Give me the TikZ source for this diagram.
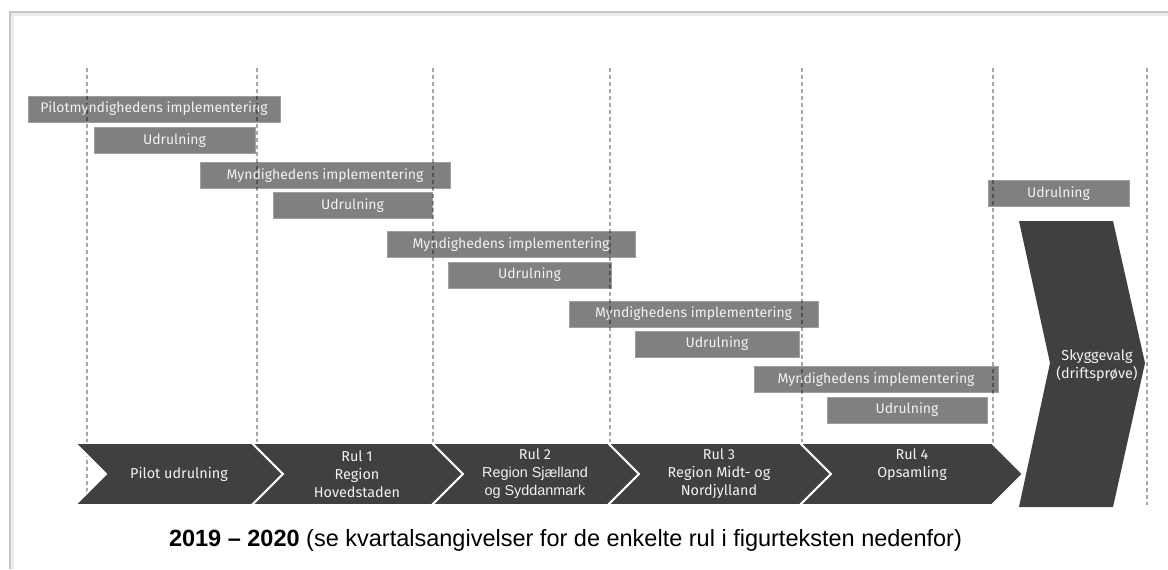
\documentclass[tikz,border=0pt]{standalone}
\usepackage{fontspec}
\setmainfont{Liberation Sans}
\newfontfamily\barfont{Fira Sans}
\begin{document}
\begin{tikzpicture}[x=0.5pt,y=-0.5pt,
   bar/.style={fill=gray,draw=gray!75,minimum height=13pt,inner sep=0pt,
     text=white!95!black,font=\barfont\fontsize{7}{8}\selectfont},
   guide/.style={black,opacity=.35,line width=.7pt,dash pattern=on 2pt off 1.5pt},
   chev/.style={fill=black!75,draw=white,line width=.9pt,line join=miter},
   lbl/.style={text=white!95!black,align=center,inner sep=0pt,
     font=\barfont\fontsize{7.2}{9}\selectfont}]
   \useasboundingbox (0,0) rectangle (1168,569);
   \draw[gray!15,line width=2pt] (12,569) -- (12,14) -- (1168,14);
   \draw[gray!45,line width=.8pt] (10,569) -- (10,12) -- (1168,12);
   \node[bar,minimum width=126pt] (imp0) at (154,109) {Pilotmyndighedens implementering};
   \node[bar,minimum width=80.5pt] (udr0) at (174.5,140.5) {Udrulning};
   \node[bar,minimum width=125pt] (imp1) at (325,175.5) {Myndighedens implementering};
   \node[bar,minimum width=79.5pt] (udr1) at (352.5,205.5) {Udrulning};
   \node[bar,minimum width=124pt] (imp2) at (511,244.5) {Myndighedens implementering};
   \node[bar,minimum width=81.5pt] (udr2) at (529.5,275) {Udrulning};
   \node[bar,minimum width=124.5pt] (imp3) at (693.5,314) {Myndighedens implementering};
   \node[bar,minimum width=82pt] (udr3) at (717,344) {Udrulning};
   \node[bar,minimum width=122pt] (imp4) at (876,379.5) {Myndighedens implementering};
   \node[bar,minimum width=80pt] (udr4) at (907,410) {Udrulning};
   \node[bar,minimum width=70.5pt] (udr5) at (1058.5,193.5) {Udrulning};
   \foreach \x in {87,257,433,610,802,993,1147}
     \draw[guide] (\x,68) -- (\x,505);
   \foreach \l/\r in {75/252,252/432,432/608,608/800,800/992}
     \draw[chev] (\l,443) -- (\r,443) -- (\r+31,474) -- (\r,505) -- (\l,505)
       -- (\l+31,474) -- cycle;
   \fill[black!75] (1019,221) -- (1113,221) -- (1145,363) -- (1113,507)
     -- (1019,507) -- (1050,363) -- cycle;
   \node[lbl] (pilot) at (179,474) {Pilot udrulning};
   \node[lbl] (rul1) at (357,474) {Rul 1\\Region\\Hovedstaden};
   \node[lbl] (rul2) at (535,474) {Rul 2\\{\rmfamily Region Sjælland}\\{\rmfamily og Syddanmark}};
   \node[lbl] (rul3) at (719,474) {Rul 3\\Region Midt- og\\Nordjylland};
   \node[lbl] (rul4) at (912,465) {Rul 4\\Opsamling};
   \node[lbl] (skygge) at (1097,366) {Skyggevalg\\(driftsprøve)};
   \node[font=\fontsize{11.75}{14}\selectfont] (caption) at (565.5,540)
     {\textbf{2019 – 2020} (se kvartalsangivelser for de enkelte rul i figurteksten nedenfor)};
 \end{tikzpicture}
\end{document}
